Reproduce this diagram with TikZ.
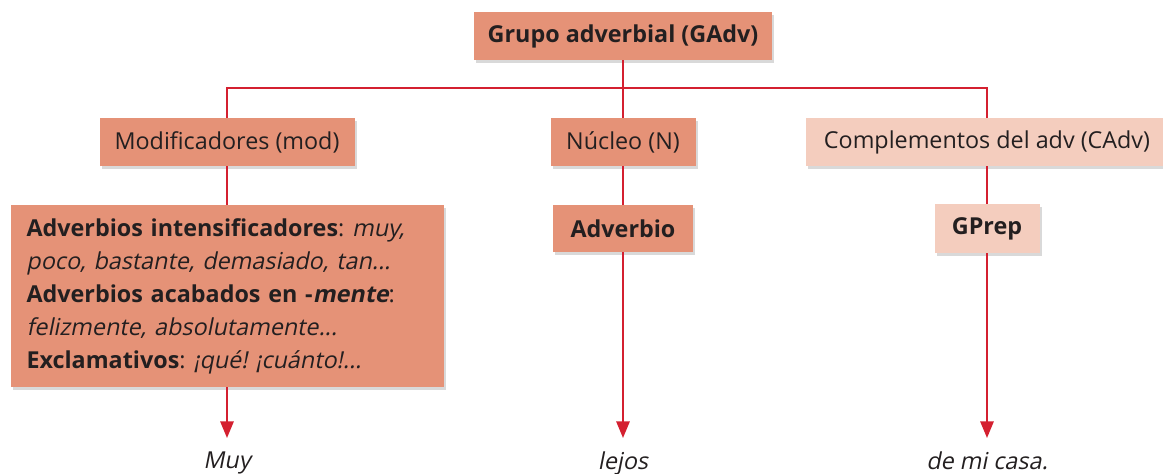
\documentclass[tikz,border=0pt]{standalone}
\usepackage{fontspec}
\setmainfont{Open Sans}[ItalicFont=Open Sans, ItalicFeatures={FakeSlant=0.2},
  BoldItalicFont=Open Sans Bold, BoldItalicFeatures={FakeSlant=0.2}]
\usepackage{tikz}
\usetikzlibrary{positioning,shadows,arrows.meta}
\definecolor{salmon}{HTML}{E59277}
\definecolor{pinklight}{HTML}{F4CDBE}
\definecolor{linered}{HTML}{D42030}
\definecolor{textgrey}{HTML}{231F20}
\newcommand{\boxfont}{\fontsize{17.5}{24.75}\selectfont}
\frenchspacing

\begin{document}
\begin{tikzpicture}[x=0.75pt, y=-0.75pt]
\tikzset{boxnode/.style={fill=salmon,text=textgrey,inner sep=0,minimum height=36pt,font=\boxfont,
  drop shadow={shadow xshift=1.5pt,shadow yshift=-2.5pt,opacity=.3,fill=black!50}},
lightnode/.style={boxnode,fill=pinklight},
leafnode/.style={font=\boxfont\itshape,text=textgrey,inner xsep=0,inner ysep=10.5pt,anchor=north},
link/.style={draw=linered,line width=1.5pt},
arrowlink/.style={link,-{Triangle[length=12.5pt,width=10pt]}}}

\useasboundingbox (0,0) rectangle (1163,474);

\node (gadv) [boxnode,minimum width=223.5pt] at (623,36) {\bfseries Grupo adverbial (GAdv)};
\node (mod) [boxnode,minimum width=191.25pt] at (227,142) {Modificadores (mod)};
\node (nuc) [boxnode,minimum width=108.75pt] at (623,142) {Núcleo (N)};
\node (cadv) [lightnode,minimum width=271.5pt] at (987,142) {Complementos del adv (CAdv)};

\node (intens) [boxnode,minimum width=324.75pt,minimum height=136.5pt,text width=300.75pt,align=left] at (227,296) {%
{\bfseries Adverbios intensificadores}: \textit{muy,}\\
\textit{poco, bastante, demasiado, tan...}\\
{\bfseries Adverbios acabados en -\textit{mente}}:\\
\textit{felizmente, absolutamente...}\\
{\bfseries Exclamativos}: \textit{¡qué! ¡cuánto!...}};
\node (adv) [boxnode,minimum width=105pt,minimum height=35.25pt] at (623,228.5) {\bfseries Adverbio};
\node (gprep) [lightnode,minimum width=78.75pt,minimum height=36.75pt] at (987,228.5) {\bfseries GPrep};

\node (muy) [leafnode] at (227,438) {Muy};
\node (lejos) [leafnode] at (623,438) {lejos};
\node (casa) [leafnode] at (987,438) {de mi casa.};

%% Edges
\coordinate (split) at (623,88);
\draw[link] (gadv) -- (split);
\draw[link] (mod) |- (split) -| (cadv);
\draw[link] (split) -- (nuc);
\draw[link] (mod) -- (intens);
\draw[link] (nuc) -- (adv);
\draw[link] (cadv) -- (gprep);
\draw[arrowlink] (intens) -- (muy);
\draw[arrowlink] (adv) -- (lejos);
\draw[arrowlink] (gprep) -- (casa);

\end{tikzpicture}
\end{document}
